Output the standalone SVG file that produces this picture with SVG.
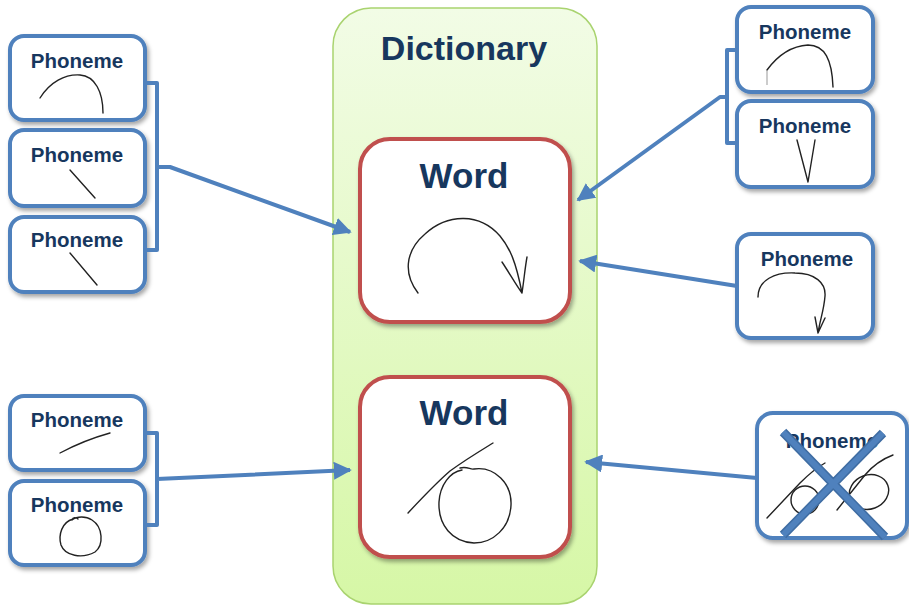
<svg xmlns="http://www.w3.org/2000/svg" width="909" height="607" viewBox="0 0 909 607">
<defs>
<linearGradient id="dg" x1="0" y1="0" x2="0" y2="1">
<stop offset="0" stop-color="#f2fce6"/>
<stop offset="1" stop-color="#d6f7a6"/>
</linearGradient>
<filter id="sh" x="-10%" y="-10%" width="125%" height="125%">
<feDropShadow dx="2" dy="3" stdDeviation="2" flood-color="#000" flood-opacity="0.35"/>
</filter>
<marker id="ah" viewBox="0 0 10 10" refX="9" refY="5" markerWidth="4.5" markerHeight="4.5" orient="auto" markerUnits="strokeWidth">
<path d="M0,0 L10,5 L0,10 z" fill="#4f81bd"/>
</marker>
</defs>
<style>
.ph{fill:#fff;stroke:#4f81bd;stroke-width:4;filter:url(#sh)}
.wd{fill:#fff;stroke:#c0504d;stroke-width:4;filter:url(#sh)}
.t{font-family:"Liberation Sans",Arial,sans-serif;font-weight:bold;fill:#17375e;text-anchor:middle}
.pt{font-size:20.5px}
.wt{font-size:35px}
.sk{fill:none;stroke:#222;stroke-width:1.4;stroke-linecap:round;stroke-linejoin:round}
.cn{fill:none;stroke:#4f81bd;stroke-width:4;stroke-linejoin:round}
</style>
<g id="dictionary">
<rect x="333" y="8" width="264" height="596" rx="38" fill="url(#dg)" stroke="#a9d36f" stroke-width="1.5"/>
<text class="t" x="464" y="60" font-size="34">Dictionary</text>
</g>
<g id="word1">
<rect class="wd" x="360" y="139" width="210" height="183" rx="30"/>
<text class="t wt" x="464" y="188">Word</text>
<path class="sk" d="M418,293 C404,275 404,252 425,234 C448,213 480,213 500,236 C510,248 516,262 522,293 M502,262 C510,274 516,285 522,293 C524,280 525,268 527,257"/>
</g>
<g id="word2">
<rect class="wd" x="360" y="377" width="210" height="180" rx="30"/>
<text class="t wt" x="464" y="425">Word</text>
<path class="sk" d="M408,513 C422,498 435,484 450,471 C465,460 480,451 493,443"/>
<path class="sk" d="M460,468 C468,466 470,470 474,469 C495,466 512,484 511,505 C510,528 493,543 474,543 C452,542 438,525 439,502 C440,485 450,472 462,470"/>
</g>
<g id="phL1">
<rect class="ph" x="10" y="36" width="135" height="84" rx="14"/>
<text class="t pt" x="77" y="68">Phoneme</text>
<path class="sk" d="M40,98 C50,82 65,74 80,75 C95,76 103,92 103,113"/>
</g>
<g id="phL2">
<rect class="ph" x="10" y="130" width="135" height="76" rx="14"/>
<text class="t pt" x="77" y="162">Phoneme</text>
<path class="sk" d="M70,170 L95,198"/>
</g>
<g id="phL3">
<rect class="ph" x="10" y="217" width="135" height="75" rx="14"/>
<text class="t pt" x="77" y="247">Phoneme</text>
<path class="sk" d="M70,253 L97,285"/>
</g>
<g id="phL4">
<rect class="ph" x="10" y="396" width="135" height="74" rx="14"/>
<text class="t pt" x="77" y="427">Phoneme</text>
<path class="sk" d="M60,453 C75,445 92,438 110,433"/>
</g>
<g id="phL5">
<rect class="ph" x="10" y="481" width="135" height="84" rx="14"/>
<text class="t pt" x="77" y="512">Phoneme</text>
<path class="sk" d="M73,519 C62,522 58,535 61,545 C65,556 82,559 95,552 C104,545 103,527 92,520 C86,516 77,516 72,520 C73,517 76,517 78,519"/>
</g>
<g id="phR1">
<rect class="ph" x="737" y="7" width="136" height="85" rx="14"/>
<text class="t pt" x="805" y="39">Phoneme</text>
<path class="sk" d="M767,70 C778,55 792,46 808,45 C825,45 832,60 833,87"/>
<path d="M767,70 L767,85" stroke="#999" stroke-width="1" fill="none"/>
</g>
<g id="phR2">
<rect class="ph" x="737" y="101" width="136" height="86" rx="14"/>
<text class="t pt" x="805" y="133">Phoneme</text>
<path class="sk" d="M797,140 L808,182 L815,140"/>
</g>
<g id="phR3">
<rect class="ph" x="737" y="234" width="136" height="104" rx="14"/>
<text class="t pt" x="807" y="266">Phoneme</text>
<path class="sk" d="M758,297 C758,280 775,272 795,273 C815,273 826,283 825,296 C824,310 820,320 818,333 M815,317 L818,333 L825,318"/>
</g>
<g id="phR4">
<rect class="ph" x="757" y="413" width="150" height="125" rx="16"/>
<text class="t pt" x="832" y="448">Phoneme</text>
<path class="sk" d="M767,518 L800,483 C810,473 818,467 825,463"/>
<ellipse class="sk" cx="805" cy="500" rx="14" ry="14"/>
<path class="sk" d="M837,510 L865,475 C875,463 885,458 893,455"/>
<ellipse class="sk" cx="869" cy="492" rx="20" ry="17" transform="rotate(-20 869 492)"/>
<path d="M783,432 L885,537 M883,433 L783,535" stroke="#3f6da3" stroke-width="9" fill="none"/>
<path d="M783,432 L885,537 M883,433 L783,535" stroke="#4f81bd" stroke-width="6" fill="none"/>
</g>
<g id="connectors">
<path class="cn" d="M145,83 L157,83 L157,250 L145,250 M157,167 L170,167 L350,232" marker-end="url(#ah)"/>
<path class="cn" d="M145,433 L157,433 L157,525 L145,525 M157,479 L350,470" marker-end="url(#ah)"/>
<path class="cn" d="M737,50 L727,50 L727,143 L737,143 M727,97 L720,97 L578,200" marker-end="url(#ah)"/>
<path class="cn" d="M737,286 L580,261" marker-end="url(#ah)"/>
<path class="cn" d="M757,478 L586,462" marker-end="url(#ah)"/>
</g>
</svg>
